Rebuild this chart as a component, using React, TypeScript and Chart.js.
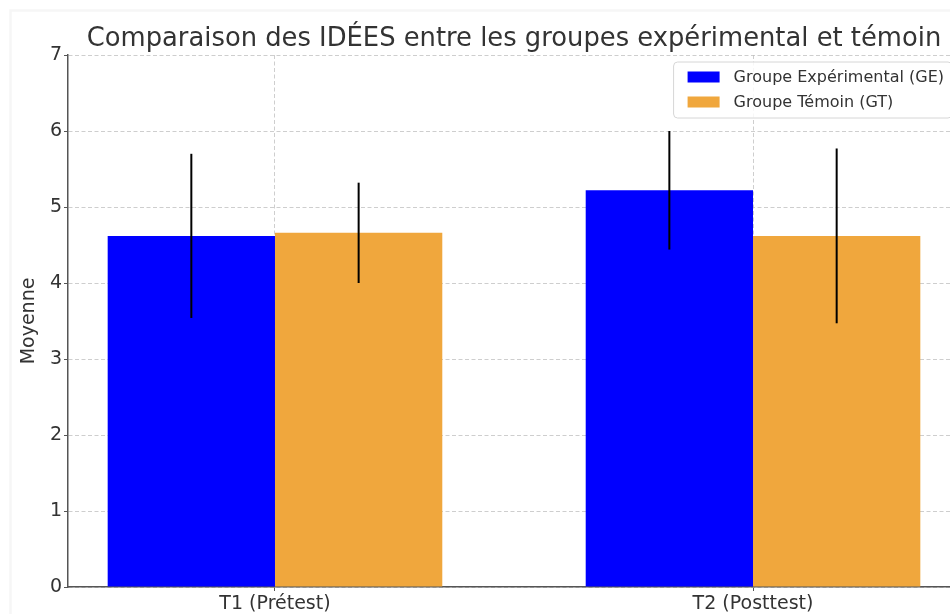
import React, { useEffect, useRef } from "react";
import { Chart, registerables } from "chart.js";

Chart.register(...registerables);

const categories = ["T1 (Prétest)", "T2 (Posttest)"];
const seriesLabels = ["Groupe Expérimental (GE)", "Groupe Témoin (GT)"];
const geMeans = [4.62, 5.22];
const gtMeans = [4.66, 4.62];
const geErrors = [1.08, 0.78];
const gtErrors = [0.66, 1.15];
const yTicks = [0, 1, 2, 3, 4, 5, 6, 7];
const chartTitle = "Comparaison des IDÉES entre les groupes expérimental et témoin";
const yAxisTitle = "Moyenne";

const seriesColors = ["#0000ff", "#f0a73d"];
const FONT = "'DejaVu Sans', sans-serif";
const TEXT = "#333333";

export default function App() {
  const ref = useRef<HTMLCanvasElement>(null);

  useEffect(() => {
    if (!ref.current) return;
    const errs = [geErrors, gtErrors];

    const frame = {
      id: "frame",
      beforeDraw(chart: any) {
        const ctx = chart.ctx;
        ctx.save();
        ctx.strokeStyle = "#f6f6f6";
        ctx.lineWidth = 2.5;
        ctx.strokeRect(10.5, 10.5, chart.width + 20, chart.height + 20);
        ctx.restore();
      },
    };

    const errorBars = {
      id: "errorBars",
      afterDraw(chart: any) {
        const ctx = chart.ctx;
        const y = chart.scales.y;
        ctx.save();
        ctx.strokeStyle = "#000";
        ctx.lineWidth = 2;
        chart.data.datasets.forEach((ds: any, d: number) => {
          const meta = chart.getDatasetMeta(d);
          meta.data.forEach((el: any, i: number) => {
            const v = ds.data[i].y;
            const e = errs[d][i];
            ctx.beginPath();
            ctx.moveTo(el.x, y.getPixelForValue(v - e));
            ctx.lineTo(el.x, y.getPixelForValue(v + e));
            ctx.stroke();
          });
        });
        ctx.restore();
      },
    };

    const titlePlugin = {
      id: "plotTitle",
      afterDraw(chart: any) {
        const { ctx, chartArea } = chart;
        ctx.save();
        ctx.font = `25.8px ${FONT}`;
        ctx.fillStyle = TEXT;
        ctx.textAlign = "center";
        ctx.textBaseline = "alphabetic";
        ctx.fillText(chartTitle, (chartArea.left + chartArea.right) / 2, chartArea.top - 9.5);
        ctx.restore();
      },
    };

    const boxLegend = {
      id: "boxLegend",
      afterDraw(chart: any) {
        const { ctx, chartArea } = chart;
        ctx.save();
        ctx.font = `16px ${FONT}`;
        const labels = chart.data.datasets.map((d: any) => d.label);
        const maxW = Math.max(...labels.map((l: string) => ctx.measureText(l).width));
        const padL = 14, sw = 32, sh = 11, gap = 14, padR = 8, rowH = 25;
        const w = padL + sw + gap + maxW + padR;
        const h = 56;
        const right = chartArea.right - 8;
        const left = right - w;
        const top = chartArea.top + 7;
        const r = 4;
        ctx.beginPath();
        ctx.moveTo(left + r, top);
        ctx.lineTo(left + w - r, top);
        ctx.arcTo(left + w, top, left + w, top + r, r);
        ctx.lineTo(left + w, top + h - r);
        ctx.arcTo(left + w, top + h, left + w - r, top + h, r);
        ctx.lineTo(left + r, top + h);
        ctx.arcTo(left, top + h, left, top + h - r, r);
        ctx.lineTo(left, top + r);
        ctx.arcTo(left, top, left + r, top, r);
        ctx.closePath();
        ctx.fillStyle = "rgba(255,255,255,0.85)";
        ctx.fill();
        ctx.strokeStyle = "#d6d6d6";
        ctx.lineWidth = 1;
        ctx.stroke();
        labels.forEach((l: string, i: number) => {
          const cy = top + 15 + i * rowH;
          ctx.fillStyle = chart.data.datasets[i].backgroundColor;
          ctx.fillRect(left + padL, cy - sh / 2, sw, sh);
          ctx.fillStyle = TEXT;
          ctx.textAlign = "left";
          ctx.textBaseline = "middle";
          ctx.fillText(l, left + padL + sw + gap, cy + 1);
        });
        ctx.restore();
      },
    };

    const gridColor = "rgba(190,190,190,0.75)";
    const AXIS = "#555555";

    const chart = new Chart(ref.current, {
      type: "bar",
      data: {
        datasets: [
          {
            label: seriesLabels[0],
            data: categories.map((_, i) => ({ x: i, y: geMeans[i] })),
            backgroundColor: seriesColors[0],
            borderWidth: 0,
          },
          {
            label: seriesLabels[1],
            data: categories.map((_, i) => ({ x: i, y: gtMeans[i] })),
            backgroundColor: seriesColors[1],
            borderWidth: 0,
          },
        ],
      },
      options: {
        animation: false,
        responsive: true,
        maintainAspectRatio: false,
        layout: { padding: { top: 55, right: 20, left: 0, bottom: 0 } },
        datasets: { bar: { categoryPercentage: 0.7, barPercentage: 1.0 } } as any,
        plugins: {
          legend: { display: false },
          title: { display: false },
          tooltip: { enabled: false },
        },
        scales: {
          x: {
            type: "linear",
            min: -0.433,
            max: 1.433,
            offset: false,
            z: 1,
            afterBuildTicks: (s: any) => {
              s.ticks = categories.map((_, i) => ({ value: i }));
            },
            afterFit: (s: any) => {
              s.height = 27;
            },
            ticks: {
              callback: (v: any) => categories[v] ?? "",
              font: { family: FONT, size: 19 },
              color: TEXT,
              padding: 2,
              maxRotation: 0,
              autoSkip: false,
            },
            grid: {
              offset: false,
              color: gridColor,
              lineWidth: 1,
              tickLength: 4,
              tickColor: AXIS,
              tickWidth: 1,
              tickBorderDash: [],
            } as any,
            border: { color: AXIS, width: 1.5, dash: [4, 2.5] },
          },
          y: {
            type: "linear",
            min: 0,
            max: 7,
            z: 1,
            afterBuildTicks: (s: any) => {
              s.ticks = yTicks.map((v) => ({ value: v }));
            },
            afterFit: (s: any) => {
              s.width = 68;
            },
            ticks: {
              font: { family: FONT, size: 19 },
              color: TEXT,
              padding: 2,
            },
            title: {
              display: true,
              text: yAxisTitle,
              font: { family: FONT, size: 19 },
              color: TEXT,
              padding: { top: 18, bottom: 0 },
            },
            grid: {
              color: gridColor,
              lineWidth: 1,
              tickLength: 4,
              tickColor: AXIS,
              tickWidth: 1,
              tickBorderDash: [],
            } as any,
            border: { color: AXIS, width: 1.5, dash: [4, 2.5] },
          },
        } as any,
      },
      plugins: [frame, errorBars, boxLegend, titlePlugin],
    });

    return () => chart.destroy();
  }, []);

  return (
    <div
      style={{
        position: "fixed",
        left: 0,
        top: 0,
        width: 950,
        height: 614,
        overflow: "hidden",
        background: "#ffffff",
      }}
    >
      <div style={{ position: "relative", width: 980, height: 614 }}>
        <canvas ref={ref} />
      </div>
    </div>
  );
}
